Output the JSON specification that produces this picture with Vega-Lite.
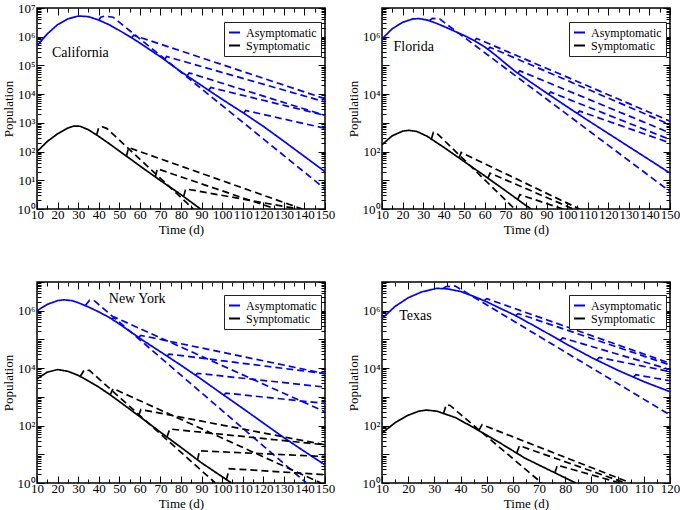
{
  "$schema": "https://vega.github.io/schema/vega-lite/v6.json",
  "background": "white",
  "padding": {"left": 1, "top": 1, "right": 2, "bottom": 2},
  "datasets": {
    "curves": [
      {"s":"CA","g":"Asymptomatic","k":"solid","id":"CA0","t":10,"v":490000},
      {"s":"CA","g":"Asymptomatic","k":"solid","id":"CA0","t":15,"v":1259000},
      {"s":"CA","g":"Asymptomatic","k":"solid","id":"CA0","t":20,"v":2630000},
      {"s":"CA","g":"Asymptomatic","k":"solid","id":"CA0","t":25,"v":4169000},
      {"s":"CA","g":"Asymptomatic","k":"solid","id":"CA0","t":30,"v":5248000},
      {"s":"CA","g":"Asymptomatic","k":"solid","id":"CA0","t":35,"v":5012000},
      {"s":"CA","g":"Asymptomatic","k":"solid","id":"CA0","t":40,"v":3802000},
      {"s":"CA","g":"Asymptomatic","k":"solid","id":"CA0","t":45,"v":2630000},
      {"s":"CA","g":"Asymptomatic","k":"solid","id":"CA0","t":50,"v":1660000},
      {"s":"CA","g":"Asymptomatic","k":"solid","id":"CA0","t":55,"v":1023000},
      {"s":"CA","g":"Asymptomatic","k":"solid","id":"CA0","t":60,"v":602600},
      {"s":"CA","g":"Asymptomatic","k":"solid","id":"CA0","t":65,"v":346700},
      {"s":"CA","g":"Asymptomatic","k":"solid","id":"CA0","t":70,"v":199500},
      {"s":"CA","g":"Asymptomatic","k":"solid","id":"CA0","t":80,"v":60260},
      {"s":"CA","g":"Asymptomatic","k":"solid","id":"CA0","t":90,"v":19950},
      {"s":"CA","g":"Asymptomatic","k":"solid","id":"CA0","t":100,"v":6607},
      {"s":"CA","g":"Asymptomatic","k":"solid","id":"CA0","t":110,"v":2291},
      {"s":"CA","g":"Asymptomatic","k":"solid","id":"CA0","t":120,"v":758.6},
      {"s":"CA","g":"Asymptomatic","k":"solid","id":"CA0","t":130,"v":229.1},
      {"s":"CA","g":"Asymptomatic","k":"solid","id":"CA0","t":140,"v":67.61},
      {"s":"CA","g":"Asymptomatic","k":"solid","id":"CA0","t":150,"v":19.95},
      {"s":"CA","g":"Symptomatic","k":"solid","id":"CS0","t":10,"v":100},
      {"s":"CA","g":"Symptomatic","k":"solid","id":"CS0","t":15,"v":223.9},
      {"s":"CA","g":"Symptomatic","k":"solid","id":"CS0","t":20,"v":416.9},
      {"s":"CA","g":"Symptomatic","k":"solid","id":"CS0","t":25,"v":660.7},
      {"s":"CA","g":"Symptomatic","k":"solid","id":"CS0","t":28,"v":776.2},
      {"s":"CA","g":"Symptomatic","k":"solid","id":"CS0","t":31,"v":758.6},
      {"s":"CA","g":"Symptomatic","k":"solid","id":"CS0","t":35,"v":575.4},
      {"s":"CA","g":"Symptomatic","k":"solid","id":"CS0","t":40,"v":338.8},
      {"s":"CA","g":"Symptomatic","k":"solid","id":"CS0","t":45,"v":190.5},
      {"s":"CA","g":"Symptomatic","k":"solid","id":"CS0","t":50,"v":104.7},
      {"s":"CA","g":"Symptomatic","k":"solid","id":"CS0","t":56,"v":51.29},
      {"s":"CA","g":"Symptomatic","k":"solid","id":"CS0","t":60,"v":31.62},
      {"s":"CA","g":"Symptomatic","k":"solid","id":"CS0","t":70,"v":9.772},
      {"s":"CA","g":"Symptomatic","k":"solid","id":"CS0","t":80,"v":3.162},
      {"s":"CA","g":"Symptomatic","k":"solid","id":"CS0","t":89.5,"v":1},
      {"s":"CA","g":"Asymptomatic","k":"dashed","id":"CA1","t":40,"v":3802000},
      {"s":"CA","g":"Asymptomatic","k":"dashed","id":"CA1","t":41,"v":4786000},
      {"s":"CA","g":"Asymptomatic","k":"dashed","id":"CA1","t":43,"v":5248000},
      {"s":"CA","g":"Asymptomatic","k":"dashed","id":"CA1","t":47,"v":4786000},
      {"s":"CA","g":"Asymptomatic","k":"dashed","id":"CA1","t":150,"v":5.012},
      {"s":"CA","g":"Asymptomatic","k":"dashed","id":"CA2","t":56,"v":912000},
      {"s":"CA","g":"Asymptomatic","k":"dashed","id":"CA2","t":57,"v":1122000},
      {"s":"CA","g":"Asymptomatic","k":"dashed","id":"CA2","t":150,"v":6918},
      {"s":"CA","g":"Asymptomatic","k":"dashed","id":"CA3","t":72,"v":158500},
      {"s":"CA","g":"Asymptomatic","k":"dashed","id":"CA3","t":73,"v":204200},
      {"s":"CA","g":"Asymptomatic","k":"dashed","id":"CA3","t":150,"v":5370},
      {"s":"CA","g":"Asymptomatic","k":"dashed","id":"CA4","t":83,"v":43650},
      {"s":"CA","g":"Asymptomatic","k":"dashed","id":"CA4","t":84,"v":54950},
      {"s":"CA","g":"Asymptomatic","k":"dashed","id":"CA4","t":150,"v":1820},
      {"s":"CA","g":"Asymptomatic","k":"dashed","id":"CA5","t":93.5,"v":13800},
      {"s":"CA","g":"Asymptomatic","k":"dashed","id":"CA5","t":94.5,"v":16980},
      {"s":"CA","g":"Asymptomatic","k":"dashed","id":"CA5","t":150,"v":1820},
      {"s":"CA","g":"Asymptomatic","k":"dashed","id":"CA6","t":110.5,"v":2188},
      {"s":"CA","g":"Asymptomatic","k":"dashed","id":"CA6","t":111.5,"v":2692},
      {"s":"CA","g":"Asymptomatic","k":"dashed","id":"CA6","t":150,"v":645.7},
      {"s":"CA","g":"Symptomatic","k":"dashed","id":"CS1","t":39,"v":380.2},
      {"s":"CA","g":"Symptomatic","k":"dashed","id":"CS1","t":40,"v":691.8},
      {"s":"CA","g":"Symptomatic","k":"dashed","id":"CS1","t":42,"v":724.4},
      {"s":"CA","g":"Symptomatic","k":"dashed","id":"CS1","t":44,"v":631},
      {"s":"CA","g":"Symptomatic","k":"dashed","id":"CS1","t":86,"v":1},
      {"s":"CA","g":"Symptomatic","k":"dashed","id":"CS2","t":53.5,"v":69.18},
      {"s":"CA","g":"Symptomatic","k":"dashed","id":"CS2","t":54.5,"v":138},
      {"s":"CA","g":"Symptomatic","k":"dashed","id":"CS2","t":139,"v":1},
      {"s":"CA","g":"Symptomatic","k":"dashed","id":"CS3","t":67.5,"v":13.18},
      {"s":"CA","g":"Symptomatic","k":"dashed","id":"CS3","t":68.5,"v":25.12},
      {"s":"CA","g":"Symptomatic","k":"dashed","id":"CS3","t":126,"v":1},
      {"s":"CA","g":"Symptomatic","k":"dashed","id":"CS4","t":81.3,"v":2.754},
      {"s":"CA","g":"Symptomatic","k":"dashed","id":"CS4","t":82.3,"v":5.012},
      {"s":"CA","g":"Symptomatic","k":"dashed","id":"CS4","t":137,"v":1},

      {"s":"FL","g":"Asymptomatic","k":"solid","id":"FA0","t":10,"v":831800},
      {"s":"FL","g":"Asymptomatic","k":"solid","id":"FA0","t":15,"v":1905000},
      {"s":"FL","g":"Asymptomatic","k":"solid","id":"FA0","t":20,"v":3162000},
      {"s":"FL","g":"Asymptomatic","k":"solid","id":"FA0","t":25,"v":4169000},
      {"s":"FL","g":"Asymptomatic","k":"solid","id":"FA0","t":28,"v":4266000},
      {"s":"FL","g":"Asymptomatic","k":"solid","id":"FA0","t":32,"v":3802000},
      {"s":"FL","g":"Asymptomatic","k":"solid","id":"FA0","t":36,"v":3020000},
      {"s":"FL","g":"Asymptomatic","k":"solid","id":"FA0","t":40,"v":2291000},
      {"s":"FL","g":"Asymptomatic","k":"solid","id":"FA0","t":45,"v":1585000},
      {"s":"FL","g":"Asymptomatic","k":"solid","id":"FA0","t":50,"v":1096000},
      {"s":"FL","g":"Asymptomatic","k":"solid","id":"FA0","t":55,"v":724400},
      {"s":"FL","g":"Asymptomatic","k":"solid","id":"FA0","t":60,"v":436500},
      {"s":"FL","g":"Asymptomatic","k":"solid","id":"FA0","t":65,"v":234400},
      {"s":"FL","g":"Asymptomatic","k":"solid","id":"FA0","t":70,"v":117500},
      {"s":"FL","g":"Asymptomatic","k":"solid","id":"FA0","t":75,"v":60260},
      {"s":"FL","g":"Asymptomatic","k":"solid","id":"FA0","t":80,"v":33880},
      {"s":"FL","g":"Asymptomatic","k":"solid","id":"FA0","t":90,"v":10960},
      {"s":"FL","g":"Asymptomatic","k":"solid","id":"FA0","t":100,"v":3631},
      {"s":"FL","g":"Asymptomatic","k":"solid","id":"FA0","t":110,"v":1230},
      {"s":"FL","g":"Asymptomatic","k":"solid","id":"FA0","t":120,"v":426.6},
      {"s":"FL","g":"Asymptomatic","k":"solid","id":"FA0","t":130,"v":147.9},
      {"s":"FL","g":"Asymptomatic","k":"solid","id":"FA0","t":140,"v":51.29},
      {"s":"FL","g":"Asymptomatic","k":"solid","id":"FA0","t":150,"v":17.78},
      {"s":"FL","g":"Symptomatic","k":"solid","id":"FS0","t":10,"v":173.8},
      {"s":"FL","g":"Symptomatic","k":"solid","id":"FS0","t":15,"v":354.8},
      {"s":"FL","g":"Symptomatic","k":"solid","id":"FS0","t":20,"v":512.9},
      {"s":"FL","g":"Symptomatic","k":"solid","id":"FS0","t":23,"v":549.5},
      {"s":"FL","g":"Symptomatic","k":"solid","id":"FS0","t":27,"v":501.2},
      {"s":"FL","g":"Symptomatic","k":"solid","id":"FS0","t":32,"v":338.8},
      {"s":"FL","g":"Symptomatic","k":"solid","id":"FS0","t":40,"v":141.3},
      {"s":"FL","g":"Symptomatic","k":"solid","id":"FS0","t":50,"v":44.67},
      {"s":"FL","g":"Symptomatic","k":"solid","id":"FS0","t":60,"v":14.13},
      {"s":"FL","g":"Symptomatic","k":"solid","id":"FS0","t":70,"v":4.365},
      {"s":"FL","g":"Symptomatic","k":"solid","id":"FS0","t":80,"v":1.318},
      {"s":"FL","g":"Symptomatic","k":"solid","id":"FS0","t":82.5,"v":1},
      {"s":"FL","g":"Asymptomatic","k":"dashed","id":"FA1","t":33,"v":3631000},
      {"s":"FL","g":"Asymptomatic","k":"dashed","id":"FA1","t":34.5,"v":4365000},
      {"s":"FL","g":"Asymptomatic","k":"dashed","id":"FA1","t":38,"v":4169000},
      {"s":"FL","g":"Asymptomatic","k":"dashed","id":"FA1","t":150,"v":4.074},
      {"s":"FL","g":"Asymptomatic","k":"dashed","id":"FA2","t":55,"v":724400},
      {"s":"FL","g":"Asymptomatic","k":"dashed","id":"FA2","t":56,"v":871000},
      {"s":"FL","g":"Asymptomatic","k":"dashed","id":"FA2","t":150,"v":1148},
      {"s":"FL","g":"Asymptomatic","k":"dashed","id":"FA3","t":61.5,"v":363100},
      {"s":"FL","g":"Asymptomatic","k":"dashed","id":"FA3","t":62.5,"v":426600},
      {"s":"FL","g":"Asymptomatic","k":"dashed","id":"FA3","t":150,"v":871},
      {"s":"FL","g":"Asymptomatic","k":"dashed","id":"FA4","t":76,"v":53700},
      {"s":"FL","g":"Asymptomatic","k":"dashed","id":"FA4","t":77,"v":64570},
      {"s":"FL","g":"Asymptomatic","k":"dashed","id":"FA4","t":150,"v":446.7},
      {"s":"FL","g":"Asymptomatic","k":"dashed","id":"FA5","t":91,"v":9772},
      {"s":"FL","g":"Asymptomatic","k":"dashed","id":"FA5","t":92,"v":11750},
      {"s":"FL","g":"Asymptomatic","k":"dashed","id":"FA5","t":150,"v":263},
      {"s":"FL","g":"Asymptomatic","k":"dashed","id":"FA6","t":105,"v":2138},
      {"s":"FL","g":"Asymptomatic","k":"dashed","id":"FA6","t":106,"v":2570},
      {"s":"FL","g":"Asymptomatic","k":"dashed","id":"FA6","t":150,"v":199.5},
      {"s":"FL","g":"Symptomatic","k":"dashed","id":"FS1","t":34,"v":275.4},
      {"s":"FL","g":"Symptomatic","k":"dashed","id":"FS1","t":35,"v":467.7},
      {"s":"FL","g":"Symptomatic","k":"dashed","id":"FS1","t":36.5,"v":446.7},
      {"s":"FL","g":"Symptomatic","k":"dashed","id":"FS1","t":74.5,"v":1},
      {"s":"FL","g":"Symptomatic","k":"dashed","id":"FS2","t":47.5,"v":60.26},
      {"s":"FL","g":"Symptomatic","k":"dashed","id":"FS2","t":48.5,"v":93.33},
      {"s":"FL","g":"Symptomatic","k":"dashed","id":"FS2","t":106,"v":1},
      {"s":"FL","g":"Symptomatic","k":"dashed","id":"FS3","t":61.5,"v":11.75},
      {"s":"FL","g":"Symptomatic","k":"dashed","id":"FS3","t":62.5,"v":17.78},
      {"s":"FL","g":"Symptomatic","k":"dashed","id":"FS3","t":103,"v":1},
      {"s":"FL","g":"Symptomatic","k":"dashed","id":"FS4","t":76,"v":2.138},
      {"s":"FL","g":"Symptomatic","k":"dashed","id":"FS4","t":77,"v":3.162},
      {"s":"FL","g":"Symptomatic","k":"dashed","id":"FS4","t":98,"v":1},

      {"s":"NY","g":"Asymptomatic","k":"solid","id":"NA0","t":10,"v":1000000},
      {"s":"NY","g":"Asymptomatic","k":"solid","id":"NA0","t":15,"v":1660000},
      {"s":"NY","g":"Asymptomatic","k":"solid","id":"NA0","t":20,"v":2239000},
      {"s":"NY","g":"Asymptomatic","k":"solid","id":"NA0","t":23,"v":2399000},
      {"s":"NY","g":"Asymptomatic","k":"solid","id":"NA0","t":27,"v":2239000},
      {"s":"NY","g":"Asymptomatic","k":"solid","id":"NA0","t":30,"v":1905000},
      {"s":"NY","g":"Asymptomatic","k":"solid","id":"NA0","t":35,"v":1349000},
      {"s":"NY","g":"Asymptomatic","k":"solid","id":"NA0","t":40,"v":912000},
      {"s":"NY","g":"Asymptomatic","k":"solid","id":"NA0","t":45,"v":588800},
      {"s":"NY","g":"Asymptomatic","k":"solid","id":"NA0","t":50,"v":346700},
      {"s":"NY","g":"Asymptomatic","k":"solid","id":"NA0","t":55,"v":195000},
      {"s":"NY","g":"Asymptomatic","k":"solid","id":"NA0","t":61,"v":97720},
      {"s":"NY","g":"Asymptomatic","k":"solid","id":"NA0","t":70,"v":37150},
      {"s":"NY","g":"Asymptomatic","k":"solid","id":"NA0","t":80,"v":12590},
      {"s":"NY","g":"Asymptomatic","k":"solid","id":"NA0","t":90,"v":4074},
      {"s":"NY","g":"Asymptomatic","k":"solid","id":"NA0","t":100,"v":1259},
      {"s":"NY","g":"Asymptomatic","k":"solid","id":"NA0","t":110,"v":398.1},
      {"s":"NY","g":"Asymptomatic","k":"solid","id":"NA0","t":120,"v":123},
      {"s":"NY","g":"Asymptomatic","k":"solid","id":"NA0","t":130,"v":38.02},
      {"s":"NY","g":"Asymptomatic","k":"solid","id":"NA0","t":140,"v":12.59},
      {"s":"NY","g":"Asymptomatic","k":"solid","id":"NA0","t":150,"v":4.266},
      {"s":"NY","g":"Symptomatic","k":"solid","id":"NS0","t":10,"v":4266},
      {"s":"NY","g":"Symptomatic","k":"solid","id":"NS0","t":15,"v":7244},
      {"s":"NY","g":"Symptomatic","k":"solid","id":"NS0","t":20,"v":8913},
      {"s":"NY","g":"Symptomatic","k":"solid","id":"NS0","t":25,"v":7762},
      {"s":"NY","g":"Symptomatic","k":"solid","id":"NS0","t":30,"v":5623},
      {"s":"NY","g":"Symptomatic","k":"solid","id":"NS0","t":35,"v":3548},
      {"s":"NY","g":"Symptomatic","k":"solid","id":"NS0","t":40,"v":2188},
      {"s":"NY","g":"Symptomatic","k":"solid","id":"NS0","t":45,"v":1259},
      {"s":"NY","g":"Symptomatic","k":"solid","id":"NS0","t":50,"v":691.8},
      {"s":"NY","g":"Symptomatic","k":"solid","id":"NS0","t":60,"v":204.2},
      {"s":"NY","g":"Symptomatic","k":"solid","id":"NS0","t":70,"v":58.88},
      {"s":"NY","g":"Symptomatic","k":"solid","id":"NS0","t":80,"v":17.38},
      {"s":"NY","g":"Symptomatic","k":"solid","id":"NS0","t":90,"v":5.012},
      {"s":"NY","g":"Symptomatic","k":"solid","id":"NS0","t":100,"v":1.66},
      {"s":"NY","g":"Symptomatic","k":"solid","id":"NS0","t":104.5,"v":1},
      {"s":"NY","g":"Asymptomatic","k":"dashed","id":"NA1","t":33.5,"v":1514000},
      {"s":"NY","g":"Asymptomatic","k":"dashed","id":"NA1","t":35.5,"v":2291000},
      {"s":"NY","g":"Asymptomatic","k":"dashed","id":"NA1","t":38,"v":2188000},
      {"s":"NY","g":"Asymptomatic","k":"dashed","id":"NA1","t":141,"v":1},
      {"s":"NY","g":"Asymptomatic","k":"dashed","id":"NA2","t":46.5,"v":501200},
      {"s":"NY","g":"Asymptomatic","k":"dashed","id":"NA2","t":47.5,"v":602600},
      {"s":"NY","g":"Asymptomatic","k":"dashed","id":"NA2","t":150,"v":302},
      {"s":"NY","g":"Asymptomatic","k":"dashed","id":"NA3","t":59.4,"v":117500},
      {"s":"NY","g":"Asymptomatic","k":"dashed","id":"NA3","t":60.5,"v":138000},
      {"s":"NY","g":"Asymptomatic","k":"dashed","id":"NA3","t":150,"v":6457},
      {"s":"NY","g":"Asymptomatic","k":"dashed","id":"NA4","t":73.2,"v":26300},
      {"s":"NY","g":"Asymptomatic","k":"dashed","id":"NA4","t":74.2,"v":30900},
      {"s":"NY","g":"Asymptomatic","k":"dashed","id":"NA4","t":150,"v":6457},
      {"s":"NY","g":"Asymptomatic","k":"dashed","id":"NA5","t":87,"v":5623},
      {"s":"NY","g":"Asymptomatic","k":"dashed","id":"NA5","t":88,"v":6607},
      {"s":"NY","g":"Asymptomatic","k":"dashed","id":"NA5","t":150,"v":2188},
      {"s":"NY","g":"Asymptomatic","k":"dashed","id":"NA6","t":100.8,"v":1148},
      {"s":"NY","g":"Asymptomatic","k":"dashed","id":"NA6","t":101.8,"v":1349},
      {"s":"NY","g":"Asymptomatic","k":"dashed","id":"NA6","t":150,"v":588.8},
      {"s":"NY","g":"Symptomatic","k":"dashed","id":"NS1","t":31,"v":5129},
      {"s":"NY","g":"Symptomatic","k":"dashed","id":"NS1","t":33,"v":8710},
      {"s":"NY","g":"Symptomatic","k":"dashed","id":"NS1","t":35.5,"v":8318},
      {"s":"NY","g":"Symptomatic","k":"dashed","id":"NS1","t":96.7,"v":1},
      {"s":"NY","g":"Symptomatic","k":"dashed","id":"NS2","t":45.5,"v":1148},
      {"s":"NY","g":"Symptomatic","k":"dashed","id":"NS2","t":47,"v":1950},
      {"s":"NY","g":"Symptomatic","k":"dashed","id":"NS2","t":148,"v":1},
      {"s":"NY","g":"Symptomatic","k":"dashed","id":"NS3","t":59.4,"v":218.8},
      {"s":"NY","g":"Symptomatic","k":"dashed","id":"NS3","t":60.5,"v":363.1},
      {"s":"NY","g":"Symptomatic","k":"dashed","id":"NS3","t":150,"v":21.38},
      {"s":"NY","g":"Symptomatic","k":"dashed","id":"NS4","t":73.2,"v":39.81},
      {"s":"NY","g":"Symptomatic","k":"dashed","id":"NS4","t":74.5,"v":75.86},
      {"s":"NY","g":"Symptomatic","k":"dashed","id":"NS4","t":150,"v":21.38},
      {"s":"NY","g":"Symptomatic","k":"dashed","id":"NS5","t":88,"v":6.31},
      {"s":"NY","g":"Symptomatic","k":"dashed","id":"NS5","t":89,"v":13.18},
      {"s":"NY","g":"Symptomatic","k":"dashed","id":"NS5","t":150,"v":8.318},
      {"s":"NY","g":"Symptomatic","k":"dashed","id":"NS6","t":102,"v":1.259},
      {"s":"NY","g":"Symptomatic","k":"dashed","id":"NS6","t":103.5,"v":3.162},
      {"s":"NY","g":"Symptomatic","k":"dashed","id":"NS6","t":150,"v":1.95},

      {"s":"TX","g":"Asymptomatic","k":"solid","id":"TA0","t":10,"v":537000},
      {"s":"TX","g":"Asymptomatic","k":"solid","id":"TA0","t":15,"v":1413000},
      {"s":"TX","g":"Asymptomatic","k":"solid","id":"TA0","t":20,"v":2818000},
      {"s":"TX","g":"Asymptomatic","k":"solid","id":"TA0","t":25,"v":4467000},
      {"s":"TX","g":"Asymptomatic","k":"solid","id":"TA0","t":31,"v":6026000},
      {"s":"TX","g":"Asymptomatic","k":"solid","id":"TA0","t":35,"v":5754000},
      {"s":"TX","g":"Asymptomatic","k":"solid","id":"TA0","t":40,"v":4677000},
      {"s":"TX","g":"Asymptomatic","k":"solid","id":"TA0","t":45,"v":3162000},
      {"s":"TX","g":"Asymptomatic","k":"solid","id":"TA0","t":50,"v":2042000},
      {"s":"TX","g":"Asymptomatic","k":"solid","id":"TA0","t":55,"v":1230000},
      {"s":"TX","g":"Asymptomatic","k":"solid","id":"TA0","t":60.6,"v":707900},
      {"s":"TX","g":"Asymptomatic","k":"solid","id":"TA0","t":70,"v":239900},
      {"s":"TX","g":"Asymptomatic","k":"solid","id":"TA0","t":80,"v":72440},
      {"s":"TX","g":"Asymptomatic","k":"solid","id":"TA0","t":90,"v":23440},
      {"s":"TX","g":"Asymptomatic","k":"solid","id":"TA0","t":100,"v":8511},
      {"s":"TX","g":"Asymptomatic","k":"solid","id":"TA0","t":110,"v":3388},
      {"s":"TX","g":"Asymptomatic","k":"solid","id":"TA0","t":120,"v":1514},
      {"s":"TX","g":"Symptomatic","k":"solid","id":"TS0","t":10,"v":54.95},
      {"s":"TX","g":"Symptomatic","k":"solid","id":"TS0","t":15,"v":125.9},
      {"s":"TX","g":"Symptomatic","k":"solid","id":"TS0","t":20,"v":229.1},
      {"s":"TX","g":"Symptomatic","k":"solid","id":"TS0","t":24,"v":316.2},
      {"s":"TX","g":"Symptomatic","k":"solid","id":"TS0","t":27,"v":346.7},
      {"s":"TX","g":"Symptomatic","k":"solid","id":"TS0","t":31,"v":316.2},
      {"s":"TX","g":"Symptomatic","k":"solid","id":"TS0","t":38,"v":190.5},
      {"s":"TX","g":"Symptomatic","k":"solid","id":"TS0","t":45,"v":85.11},
      {"s":"TX","g":"Symptomatic","k":"solid","id":"TS0","t":55,"v":25.12},
      {"s":"TX","g":"Symptomatic","k":"solid","id":"TS0","t":64.5,"v":7.413},
      {"s":"TX","g":"Symptomatic","k":"solid","id":"TS0","t":75,"v":2.512},
      {"s":"TX","g":"Symptomatic","k":"solid","id":"TS0","t":84,"v":1},
      {"s":"TX","g":"Asymptomatic","k":"dashed","id":"TA1","t":33.5,"v":6026000},
      {"s":"TX","g":"Asymptomatic","k":"dashed","id":"TA1","t":34.5,"v":6918000},
      {"s":"TX","g":"Asymptomatic","k":"dashed","id":"TA1","t":38,"v":7244000},
      {"s":"TX","g":"Asymptomatic","k":"dashed","id":"TA1","t":120,"v":234.4},
      {"s":"TX","g":"Asymptomatic","k":"dashed","id":"TA2","t":49,"v":2239000},
      {"s":"TX","g":"Asymptomatic","k":"dashed","id":"TA2","t":50,"v":2630000},
      {"s":"TX","g":"Asymptomatic","k":"dashed","id":"TA2","t":120,"v":14790},
      {"s":"TX","g":"Asymptomatic","k":"dashed","id":"TA3","t":61,"v":676100},
      {"s":"TX","g":"Asymptomatic","k":"dashed","id":"TA3","t":62,"v":794300},
      {"s":"TX","g":"Asymptomatic","k":"dashed","id":"TA3","t":120,"v":12880},
      {"s":"TX","g":"Asymptomatic","k":"dashed","id":"TA4","t":78,"v":91200},
      {"s":"TX","g":"Asymptomatic","k":"dashed","id":"TA4","t":79,"v":112200},
      {"s":"TX","g":"Asymptomatic","k":"dashed","id":"TA4","t":120,"v":8913},
      {"s":"TX","g":"Asymptomatic","k":"dashed","id":"TA5","t":92,"v":19050},
      {"s":"TX","g":"Asymptomatic","k":"dashed","id":"TA5","t":93,"v":23440},
      {"s":"TX","g":"Asymptomatic","k":"dashed","id":"TA5","t":120,"v":7586},
      {"s":"TX","g":"Asymptomatic","k":"dashed","id":"TA6","t":106,"v":4898},
      {"s":"TX","g":"Asymptomatic","k":"dashed","id":"TA6","t":107,"v":5888},
      {"s":"TX","g":"Asymptomatic","k":"dashed","id":"TA6","t":120,"v":3631},
      {"s":"TX","g":"Symptomatic","k":"dashed","id":"TS1","t":33.5,"v":263},
      {"s":"TX","g":"Symptomatic","k":"dashed","id":"TS1","t":34.5,"v":524.8},
      {"s":"TX","g":"Symptomatic","k":"dashed","id":"TS1","t":36,"v":501.2},
      {"s":"TX","g":"Symptomatic","k":"dashed","id":"TS1","t":71,"v":1},
      {"s":"TX","g":"Symptomatic","k":"dashed","id":"TS2","t":47,"v":67.61},
      {"s":"TX","g":"Symptomatic","k":"dashed","id":"TS2","t":48.2,"v":107.2},
      {"s":"TX","g":"Symptomatic","k":"dashed","id":"TS2","t":105,"v":1},
      {"s":"TX","g":"Symptomatic","k":"dashed","id":"TS3","t":61.5,"v":11.22},
      {"s":"TX","g":"Symptomatic","k":"dashed","id":"TS3","t":62.5,"v":19.95},
      {"s":"TX","g":"Symptomatic","k":"dashed","id":"TS3","t":103,"v":1},
      {"s":"TX","g":"Symptomatic","k":"dashed","id":"TS4","t":76,"v":2.239},
      {"s":"TX","g":"Symptomatic","k":"dashed","id":"TS4","t":77,"v":4.169},
      {"s":"TX","g":"Symptomatic","k":"dashed","id":"TS4","t":101,"v":1}
    ],
    "labels": [
      {"s":"CA","t":17.3,"v":269000,"label":"California"},
      {"s":"FL","t":15.6,"v":447000,"label":"Florida"},
      {"s":"NY","t":44.9,"v":2510000,"label":"New York"},
      {"s":"TX","t":16.6,"v":676000,"label":"Texas"}
    ]
  },
  "columns": 2,
  "spacing": {"row": 73, "column": 57},
  "bounds": "flush",
  "resolve": {"scale": {"color": "independent", "strokeDash": "independent"}, "legend": {"color": "independent", "strokeDash": "independent"}},
  "concat": [
    {
      "width": 288, "height": 201,
      "layer": [
        {
          "data": {"name": "curves"},
          "transform": [{"filter": "datum.s === 'CA'"}],
          "mark": {"type": "line", "clip": true, "strokeWidth": 1.7},
          "encoding": {
            "x": {"field": "t", "type": "quantitative", "scale": {"domain": [10, 150], "nice": false, "zero": false},
              "axis": {"orient": "bottom", "values": [10,15,20,25,30,35,40,45,50,55,60,65,70,75,80,85,90,95,100,105,110,115,120,125,130,135,140,145,150], "labelExpr": "datum.value % 10 === 0 ? datum.label : ''", "tickSize": {"condition": {"test": "datum.value % 10 === 0", "value": -7}, "value": -4}, "labelPadding": 6, "labelFlush": false, "labelOverlap": false, "title": "Time (d)", "titlePadding": -1}},
            "y": {"field": "v", "type": "quantitative", "scale": {"type": "log", "domain": [1, 10000000], "nice": false},
              "axis": {"orient": "left", "values": [1,2,3,4,5,6,7,8,9,10,20,30,40,50,60,70,80,90,100,200,300,400,500,600,700,800,900,1000,2000,3000,4000,5000,6000,7000,8000,9000,10000,20000,30000,40000,50000,60000,70000,80000,90000,100000,200000,300000,400000,500000,600000,700000,800000,900000,1000000,2000000,3000000,4000000,5000000,6000000,7000000,8000000,9000000,10000000], "labelExpr": "abs(log(datum.value)/LN10 - round(log(datum.value)/LN10)) < 0.001 ? '10' + ['⁰','¹','²','³','⁴','⁵','⁶','⁷'][round(log(datum.value)/LN10)] : ''", "tickSize": {"condition": {"test": "abs(log(datum.value)/LN10 - round(log(datum.value)/LN10)) < 0.001", "value": -7}, "value": -4}, "labelPadding": 9, "labelOverlap": false, "title": "Population", "titlePadding": 2}},
            "color": {"field": "g", "type": "nominal", "scale": {"domain": ["Asymptomatic", "Symptomatic"], "range": ["#0000ff", "#000000"]},
              "legend": {"title": null, "orient": "none", "legendX": 187, "legendY": 14, "strokeColor": "#222222", "fillColor": "white", "padding": 4, "symbolType": "stroke", "symbolSize": 121, "symbolStrokeWidth": 2, "labelFont": "Liberation Serif", "labelFontSize": 12, "labelColor": "black", "rowPadding": 0, "labelOffset": 5}},
            "strokeDash": {"field": "k", "type": "nominal", "scale": {"domain": ["solid", "dashed"], "range": [[1, 0], [7, 4]]}, "legend": null},
            "detail": {"field": "id"}
          }
        },
        {
          "data": {"name": "curves"},
          "transform": [{"filter": "datum.s === 'CA'"}],
          "mark": {"type": "point", "opacity": 0},
          "encoding": {
            "x": {"field": "t", "type": "quantitative", "scale": {"domain": [10, 150], "nice": false, "zero": false},
              "axis": {"orient": "top", "values": [10,15,20,25,30,35,40,45,50,55,60,65,70,75,80,85,90,95,100,105,110,115,120,125,130,135,140,145,150], "labels": false, "tickSize": {"condition": {"test": "datum.value % 10 === 0", "value": -7}, "value": -4}, "title": null}},
            "y": {"field": "v", "type": "quantitative", "scale": {"type": "log", "domain": [1, 10000000], "nice": false},
              "axis": {"orient": "right", "values": [1,2,3,4,5,6,7,8,9,10,20,30,40,50,60,70,80,90,100,200,300,400,500,600,700,800,900,1000,2000,3000,4000,5000,6000,7000,8000,9000,10000,20000,30000,40000,50000,60000,70000,80000,90000,100000,200000,300000,400000,500000,600000,700000,800000,900000,1000000,2000000,3000000,4000000,5000000,6000000,7000000,8000000,9000000,10000000], "labels": false, "tickSize": {"condition": {"test": "abs(log(datum.value)/LN10 - round(log(datum.value)/LN10)) < 0.001", "value": -7}, "value": -4}, "title": null}}
          }
        },
        {
          "data": {"name": "labels"},
          "transform": [{"filter": "datum.s === 'CA'"}],
          "mark": {"type": "text", "align": "left", "baseline": "middle", "font": "Liberation Serif", "fontSize": 14, "color": "black"},
          "encoding": {
            "x": {"field": "t", "type": "quantitative", "axis": null},
            "y": {"field": "v", "type": "quantitative", "axis": null},
            "text": {"field": "label"}
          }
        }
      ],
      "resolve": {"axis": {"x": "independent", "y": "independent"}}
    },
    {
      "width": 288, "height": 201,
      "layer": [
        {
          "data": {"name": "curves"},
          "transform": [{"filter": "datum.s === 'FL'"}],
          "mark": {"type": "line", "clip": true, "strokeWidth": 1.7},
          "encoding": {
            "x": {"field": "t", "type": "quantitative", "scale": {"domain": [10, 150], "nice": false, "zero": false},
              "axis": {"orient": "bottom", "values": [10,15,20,25,30,35,40,45,50,55,60,65,70,75,80,85,90,95,100,105,110,115,120,125,130,135,140,145,150], "labelExpr": "datum.value % 10 === 0 ? datum.label : ''", "tickSize": {"condition": {"test": "datum.value % 10 === 0", "value": -7}, "value": -4}, "labelPadding": 6, "labelFlush": false, "labelOverlap": false, "title": "Time (d)", "titlePadding": -1}},
            "y": {"field": "v", "type": "quantitative", "scale": {"type": "log", "domain": [1, 10000000], "nice": false},
              "axis": {"orient": "left", "values": [1,2,3,4,5,6,7,8,9,10,20,30,40,50,60,70,80,90,100,200,300,400,500,600,700,800,900,1000,2000,3000,4000,5000,6000,7000,8000,9000,10000,20000,30000,40000,50000,60000,70000,80000,90000,100000,200000,300000,400000,500000,600000,700000,800000,900000,1000000,2000000,3000000,4000000,5000000,6000000,7000000,8000000,9000000,10000000], "labelExpr": "abs(log(datum.value)/LN10 - round(log(datum.value)/LN10)) < 0.001 && round(log(datum.value)/LN10) % 2 === 0 ? '10' + ['⁰','¹','²','³','⁴','⁵','⁶','⁷'][round(log(datum.value)/LN10)] : ''", "tickSize": {"condition": {"test": "abs(log(datum.value)/LN10 - round(log(datum.value)/LN10)) < 0.001", "value": -7}, "value": -4}, "labelPadding": 9, "labelOverlap": false, "title": "Population", "titlePadding": 2}},
            "color": {"field": "g", "type": "nominal", "scale": {"domain": ["Asymptomatic", "Symptomatic"], "range": ["#0000ff", "#000000"]},
              "legend": {"title": null, "orient": "none", "legendX": 187, "legendY": 14, "strokeColor": "#222222", "fillColor": "white", "padding": 4, "symbolType": "stroke", "symbolSize": 121, "symbolStrokeWidth": 2, "labelFont": "Liberation Serif", "labelFontSize": 12, "labelColor": "black", "rowPadding": 0, "labelOffset": 5}},
            "strokeDash": {"field": "k", "type": "nominal", "scale": {"domain": ["solid", "dashed"], "range": [[1, 0], [7, 4]]}, "legend": null},
            "detail": {"field": "id"}
          }
        },
        {
          "data": {"name": "curves"},
          "transform": [{"filter": "datum.s === 'FL'"}],
          "mark": {"type": "point", "opacity": 0},
          "encoding": {
            "x": {"field": "t", "type": "quantitative", "scale": {"domain": [10, 150], "nice": false, "zero": false},
              "axis": {"orient": "top", "values": [10,15,20,25,30,35,40,45,50,55,60,65,70,75,80,85,90,95,100,105,110,115,120,125,130,135,140,145,150], "labels": false, "tickSize": {"condition": {"test": "datum.value % 10 === 0", "value": -7}, "value": -4}, "title": null}},
            "y": {"field": "v", "type": "quantitative", "scale": {"type": "log", "domain": [1, 10000000], "nice": false},
              "axis": {"orient": "right", "values": [1,2,3,4,5,6,7,8,9,10,20,30,40,50,60,70,80,90,100,200,300,400,500,600,700,800,900,1000,2000,3000,4000,5000,6000,7000,8000,9000,10000,20000,30000,40000,50000,60000,70000,80000,90000,100000,200000,300000,400000,500000,600000,700000,800000,900000,1000000,2000000,3000000,4000000,5000000,6000000,7000000,8000000,9000000,10000000], "labels": false, "tickSize": {"condition": {"test": "abs(log(datum.value)/LN10 - round(log(datum.value)/LN10)) < 0.001", "value": -7}, "value": -4}, "title": null}}
          }
        },
        {
          "data": {"name": "labels"},
          "transform": [{"filter": "datum.s === 'FL'"}],
          "mark": {"type": "text", "align": "left", "baseline": "middle", "font": "Liberation Serif", "fontSize": 14, "color": "black"},
          "encoding": {
            "x": {"field": "t", "type": "quantitative", "axis": null},
            "y": {"field": "v", "type": "quantitative", "axis": null},
            "text": {"field": "label"}
          }
        }
      ],
      "resolve": {"axis": {"x": "independent", "y": "independent"}}
    },
    {
      "width": 288, "height": 201,
      "layer": [
        {
          "data": {"name": "curves"},
          "transform": [{"filter": "datum.s === 'NY'"}],
          "mark": {"type": "line", "clip": true, "strokeWidth": 1.7},
          "encoding": {
            "x": {"field": "t", "type": "quantitative", "scale": {"domain": [10, 150], "nice": false, "zero": false},
              "axis": {"orient": "bottom", "values": [10,15,20,25,30,35,40,45,50,55,60,65,70,75,80,85,90,95,100,105,110,115,120,125,130,135,140,145,150], "labelExpr": "datum.value % 10 === 0 ? datum.label : ''", "tickSize": {"condition": {"test": "datum.value % 10 === 0", "value": -7}, "value": -4}, "labelPadding": 6, "labelFlush": false, "labelOverlap": false, "title": "Time (d)", "titlePadding": -1}},
            "y": {"field": "v", "type": "quantitative", "scale": {"type": "log", "domain": [1, 10000000], "nice": false},
              "axis": {"orient": "left", "values": [1,2,3,4,5,6,7,8,9,10,20,30,40,50,60,70,80,90,100,200,300,400,500,600,700,800,900,1000,2000,3000,4000,5000,6000,7000,8000,9000,10000,20000,30000,40000,50000,60000,70000,80000,90000,100000,200000,300000,400000,500000,600000,700000,800000,900000,1000000,2000000,3000000,4000000,5000000,6000000,7000000,8000000,9000000,10000000], "labelExpr": "abs(log(datum.value)/LN10 - round(log(datum.value)/LN10)) < 0.001 && round(log(datum.value)/LN10) % 2 === 0 ? '10' + ['⁰','¹','²','³','⁴','⁵','⁶','⁷'][round(log(datum.value)/LN10)] : ''", "tickSize": {"condition": {"test": "abs(log(datum.value)/LN10 - round(log(datum.value)/LN10)) < 0.001", "value": -7}, "value": -4}, "labelPadding": 9, "labelOverlap": false, "title": "Population", "titlePadding": 2}},
            "color": {"field": "g", "type": "nominal", "scale": {"domain": ["Asymptomatic", "Symptomatic"], "range": ["#0000ff", "#000000"]},
              "legend": {"title": null, "orient": "none", "legendX": 187, "legendY": 13, "strokeColor": "#222222", "fillColor": "white", "padding": 4, "symbolType": "stroke", "symbolSize": 121, "symbolStrokeWidth": 2, "labelFont": "Liberation Serif", "labelFontSize": 12, "labelColor": "black", "rowPadding": 0, "labelOffset": 5}},
            "strokeDash": {"field": "k", "type": "nominal", "scale": {"domain": ["solid", "dashed"], "range": [[1, 0], [7, 4]]}, "legend": null},
            "detail": {"field": "id"}
          }
        },
        {
          "data": {"name": "curves"},
          "transform": [{"filter": "datum.s === 'NY'"}],
          "mark": {"type": "point", "opacity": 0},
          "encoding": {
            "x": {"field": "t", "type": "quantitative", "scale": {"domain": [10, 150], "nice": false, "zero": false},
              "axis": {"orient": "top", "values": [10,15,20,25,30,35,40,45,50,55,60,65,70,75,80,85,90,95,100,105,110,115,120,125,130,135,140,145,150], "labels": false, "tickSize": {"condition": {"test": "datum.value % 10 === 0", "value": -7}, "value": -4}, "title": null}},
            "y": {"field": "v", "type": "quantitative", "scale": {"type": "log", "domain": [1, 10000000], "nice": false},
              "axis": {"orient": "right", "values": [1,2,3,4,5,6,7,8,9,10,20,30,40,50,60,70,80,90,100,200,300,400,500,600,700,800,900,1000,2000,3000,4000,5000,6000,7000,8000,9000,10000,20000,30000,40000,50000,60000,70000,80000,90000,100000,200000,300000,400000,500000,600000,700000,800000,900000,1000000,2000000,3000000,4000000,5000000,6000000,7000000,8000000,9000000,10000000], "labels": false, "tickSize": {"condition": {"test": "abs(log(datum.value)/LN10 - round(log(datum.value)/LN10)) < 0.001", "value": -7}, "value": -4}, "title": null}}
          }
        },
        {
          "data": {"name": "labels"},
          "transform": [{"filter": "datum.s === 'NY'"}],
          "mark": {"type": "text", "align": "left", "baseline": "middle", "font": "Liberation Serif", "fontSize": 14, "color": "black"},
          "encoding": {
            "x": {"field": "t", "type": "quantitative", "axis": null},
            "y": {"field": "v", "type": "quantitative", "axis": null},
            "text": {"field": "label"}
          }
        }
      ],
      "resolve": {"axis": {"x": "independent", "y": "independent"}}
    },
    {
      "width": 288, "height": 201,
      "layer": [
        {
          "data": {"name": "curves"},
          "transform": [{"filter": "datum.s === 'TX'"}],
          "mark": {"type": "line", "clip": true, "strokeWidth": 1.7},
          "encoding": {
            "x": {"field": "t", "type": "quantitative", "scale": {"domain": [10, 120], "nice": false, "zero": false},
              "axis": {"orient": "bottom", "values": [10,15,20,25,30,35,40,45,50,55,60,65,70,75,80,85,90,95,100,105,110,115,120], "labelExpr": "datum.value % 10 === 0 ? datum.label : ''", "tickSize": {"condition": {"test": "datum.value % 10 === 0", "value": -7}, "value": -4}, "labelPadding": 6, "labelFlush": false, "labelOverlap": false, "title": "Time (d)", "titlePadding": -1}},
            "y": {"field": "v", "type": "quantitative", "scale": {"type": "log", "domain": [1, 10000000], "nice": false},
              "axis": {"orient": "left", "values": [1,2,3,4,5,6,7,8,9,10,20,30,40,50,60,70,80,90,100,200,300,400,500,600,700,800,900,1000,2000,3000,4000,5000,6000,7000,8000,9000,10000,20000,30000,40000,50000,60000,70000,80000,90000,100000,200000,300000,400000,500000,600000,700000,800000,900000,1000000,2000000,3000000,4000000,5000000,6000000,7000000,8000000,9000000,10000000], "labelExpr": "abs(log(datum.value)/LN10 - round(log(datum.value)/LN10)) < 0.001 && round(log(datum.value)/LN10) % 2 === 0 ? '10' + ['⁰','¹','²','³','⁴','⁵','⁶','⁷'][round(log(datum.value)/LN10)] : ''", "tickSize": {"condition": {"test": "abs(log(datum.value)/LN10 - round(log(datum.value)/LN10)) < 0.001", "value": -7}, "value": -4}, "labelPadding": 9, "labelOverlap": false, "title": "Population", "titlePadding": 2}},
            "color": {"field": "g", "type": "nominal", "scale": {"domain": ["Asymptomatic", "Symptomatic"], "range": ["#0000ff", "#000000"]},
              "legend": {"title": null, "orient": "none", "legendX": 187, "legendY": 13, "strokeColor": "#222222", "fillColor": "white", "padding": 4, "symbolType": "stroke", "symbolSize": 121, "symbolStrokeWidth": 2, "labelFont": "Liberation Serif", "labelFontSize": 12, "labelColor": "black", "rowPadding": 0, "labelOffset": 5}},
            "strokeDash": {"field": "k", "type": "nominal", "scale": {"domain": ["solid", "dashed"], "range": [[1, 0], [7, 4]]}, "legend": null},
            "detail": {"field": "id"}
          }
        },
        {
          "data": {"name": "curves"},
          "transform": [{"filter": "datum.s === 'TX'"}],
          "mark": {"type": "point", "opacity": 0},
          "encoding": {
            "x": {"field": "t", "type": "quantitative", "scale": {"domain": [10, 120], "nice": false, "zero": false},
              "axis": {"orient": "top", "values": [10,15,20,25,30,35,40,45,50,55,60,65,70,75,80,85,90,95,100,105,110,115,120], "labels": false, "tickSize": {"condition": {"test": "datum.value % 10 === 0", "value": -7}, "value": -4}, "title": null}},
            "y": {"field": "v", "type": "quantitative", "scale": {"type": "log", "domain": [1, 10000000], "nice": false},
              "axis": {"orient": "right", "values": [1,2,3,4,5,6,7,8,9,10,20,30,40,50,60,70,80,90,100,200,300,400,500,600,700,800,900,1000,2000,3000,4000,5000,6000,7000,8000,9000,10000,20000,30000,40000,50000,60000,70000,80000,90000,100000,200000,300000,400000,500000,600000,700000,800000,900000,1000000,2000000,3000000,4000000,5000000,6000000,7000000,8000000,9000000,10000000], "labels": false, "tickSize": {"condition": {"test": "abs(log(datum.value)/LN10 - round(log(datum.value)/LN10)) < 0.001", "value": -7}, "value": -4}, "title": null}}
          }
        },
        {
          "data": {"name": "labels"},
          "transform": [{"filter": "datum.s === 'TX'"}],
          "mark": {"type": "text", "align": "left", "baseline": "middle", "font": "Liberation Serif", "fontSize": 14, "color": "black"},
          "encoding": {
            "x": {"field": "t", "type": "quantitative", "axis": null},
            "y": {"field": "v", "type": "quantitative", "axis": null},
            "text": {"field": "label"}
          }
        }
      ],
      "resolve": {"axis": {"x": "independent", "y": "independent"}}
    }
  ],
  "config": {
    "font": "Liberation Serif",
    "view": {"stroke": "black", "strokeWidth": 1.5},
    "axis": {"labelFont": "Liberation Serif", "labelFontSize": 13, "labelColor": "black", "titleFont": "Liberation Serif", "titleFontSize": 13, "titleFontWeight": "normal", "titleColor": "black", "grid": false, "domain": false, "tickColor": "black", "tickWidth": 1}
  }
}
